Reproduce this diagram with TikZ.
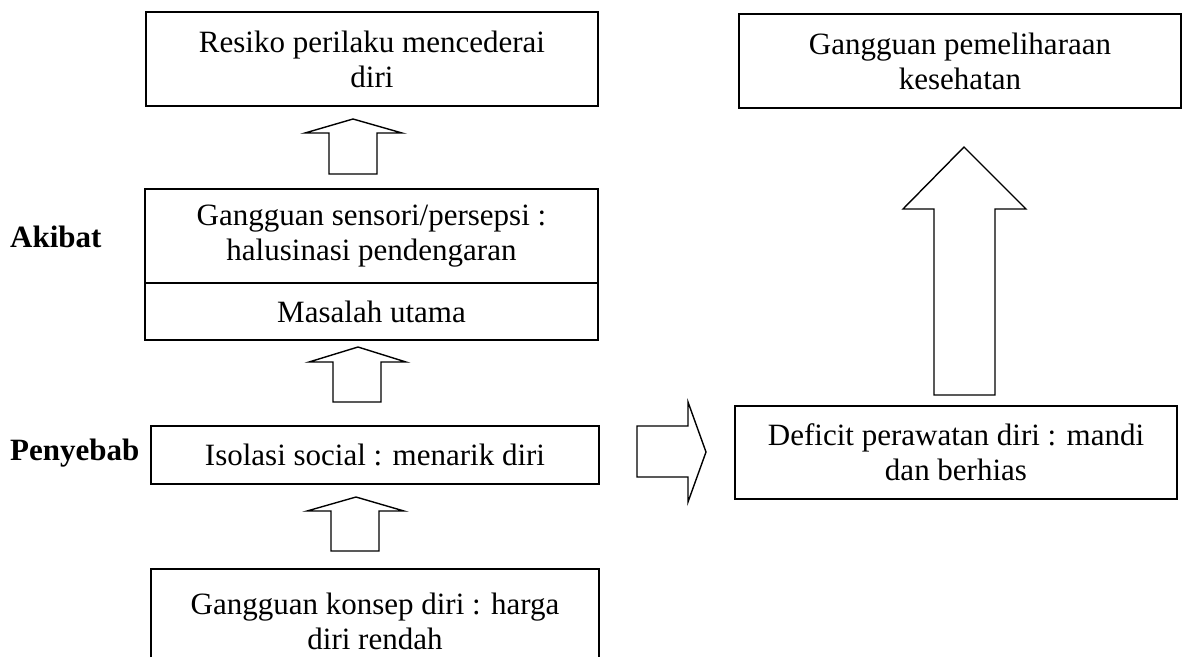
\documentclass[tikz,border=0pt]{standalone}
\usepackage{fontspec}
\setmainfont{Liberation Serif}
\begin{document}
\begin{tikzpicture}[x=1pt,y=-1pt,
  box/.style={draw,line width=1.8pt,align=center,inner sep=0pt,font=\fontsize{31}{35}\selectfont},
  plain/.style={align=center,inner sep=0pt,font=\fontsize{31}{35}\selectfont},
  lbl/.style={anchor=west,inner sep=0pt,font=\fontsize{31}{35}\selectfont\bfseries},
  blockarrow/.style={draw,line width=1.4pt,line join=miter}]
\useasboundingbox[fill=white] (0,0) rectangle (1193,657);
% left column
\node[box,minimum width=452pt,minimum height=94pt] (risk) at (372,59) {Resiko perilaku mencederai\\diri};
\node[box,minimum width=453pt,minimum height=94pt] (halu) at (371.5,236) {Gangguan sensori/persepsi :\\halusinasi pendengaran};
\node[box,minimum width=453pt,minimum height=57pt] (main) at (371.5,311.5) {Masalah utama};
\node[box,minimum width=448pt,minimum height=58pt] (iso) at (375,455) {Isolasi social : menarik diri};
\node[plain,minimum width=448pt,minimum height=104pt] (low) at (375,621) {Gangguan konsep diri : harga\\diri rendah};
\draw[line width=1.8pt] (low.west |- 0,657) -- (low.north west) -- (low.north east) -- (low.east |- 0,657);
% labels
\node[lbl] (akibat) at (10,237) {Akibat};
\node[lbl] (penyebab) at (10,453) {Penyebab};
% right column
\node[box,minimum width=442pt,minimum height=94pt] (pem) at (960,61) {Gangguan pemeliharaan\\kesehatan};
\node[box,minimum width=442pt,minimum height=93pt] (def) at (956,452.5) {Deficit perawatan diri : mandi\\dan berhias};
% block arrows
\draw[blockarrow] (353,119) -- (402,133) -- (377,133) -- (377,174) -- (329,174) -- (329,133) -- (305,133) -- cycle;
\draw[blockarrow] (358,347) -- (406,362) -- (381,362) -- (381,402) -- (333,402) -- (333,362) -- (309,362) -- cycle;
\draw[blockarrow] (356,497) -- (404,511) -- (379,511) -- (379,551) -- (331,551) -- (331,511) -- (307,511) -- cycle;
\draw[blockarrow] (706,452) -- (688,502) -- (688,477) -- (637,477) -- (637,426) -- (688,426) -- (688,402) -- cycle;
\draw[blockarrow] (964,147) -- (1026,209) -- (995,209) -- (995,395) -- (934,395) -- (934,209) -- (903,209) -- cycle;
\end{tikzpicture}
\end{document}
